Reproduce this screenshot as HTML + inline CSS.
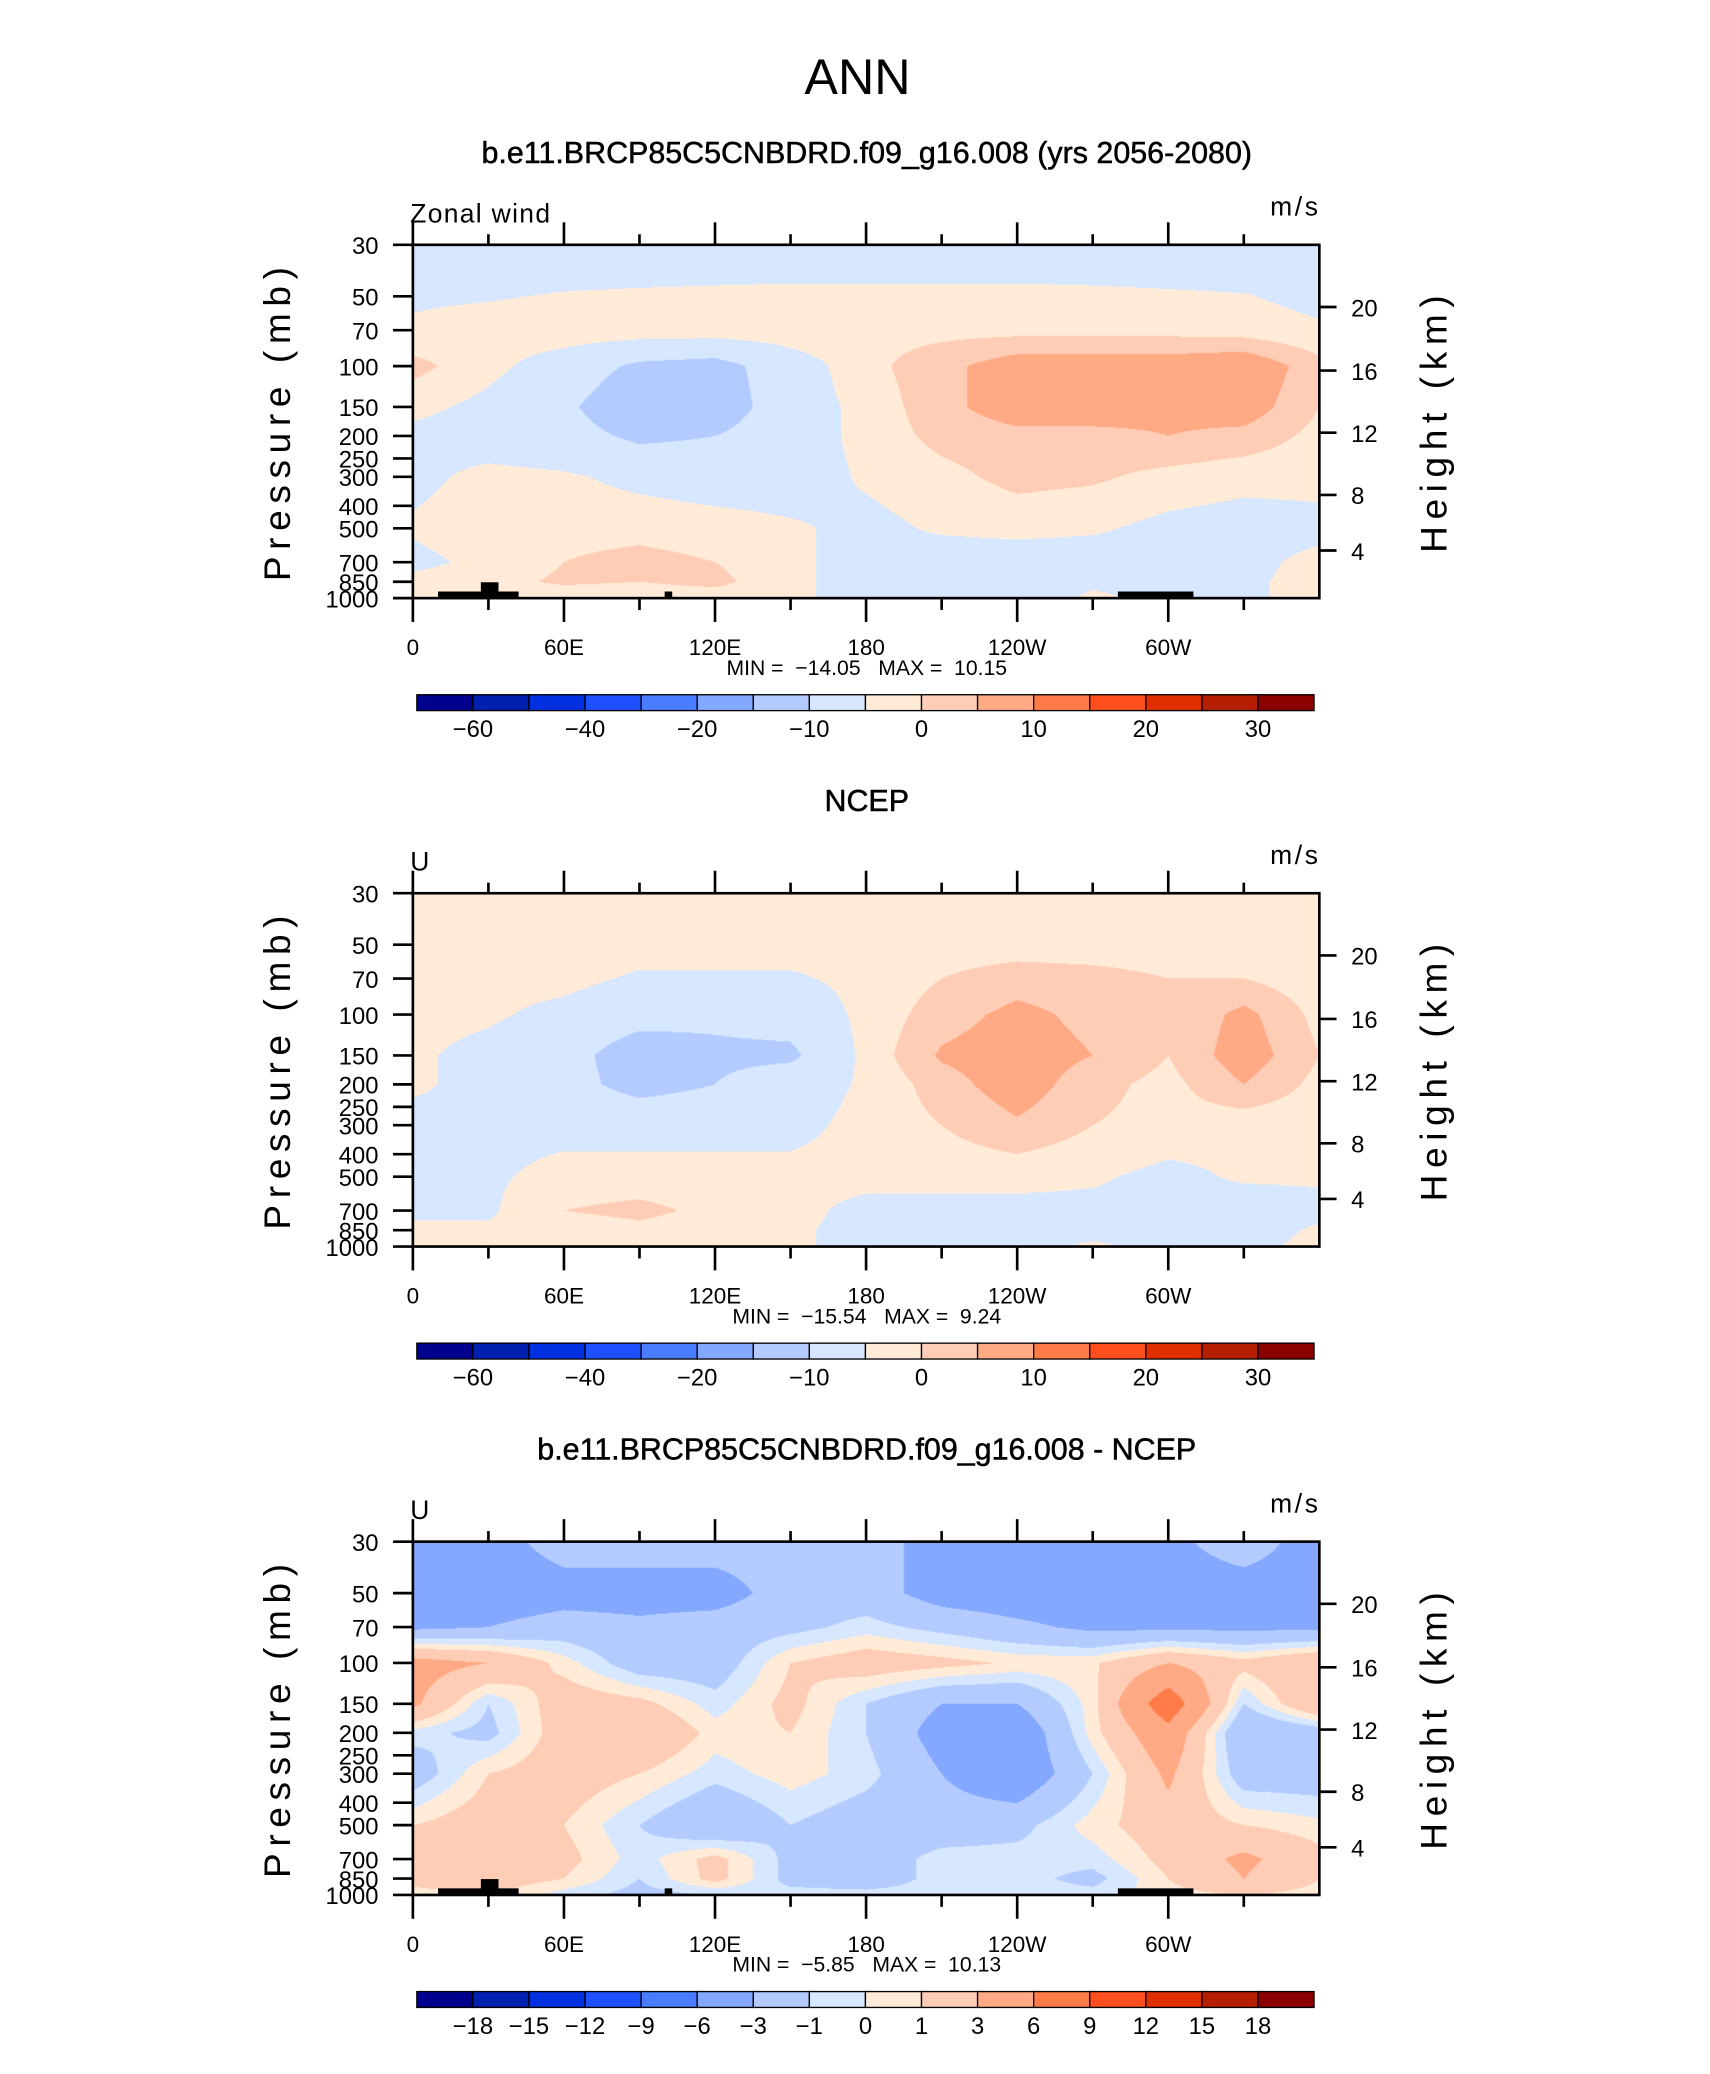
<!DOCTYPE html>
<html><head><meta charset="utf-8">
<style>
html,body{margin:0;padding:0;background:#fff;overflow:hidden;}
#wrap{position:relative;width:1300px;height:1577px;transform:scale(1.3233,1.3233);transform-origin:0 0;}
svg{position:absolute;left:0;top:0;}
canvas{position:absolute;}
text{font-family:"Liberation Sans",sans-serif;fill:#000;}
</style></head>
<body>
<div id="wrap">
<canvas id="c0"></canvas>
<canvas id="c1"></canvas>
<canvas id="c2"></canvas>
<svg id="s" width="1300" height="1577" viewBox="0 0 1300 1577"></svg>
</div>
<script>
// ---- data ----
const lons = [0,30,60,90,120,150,180,210,240,270,300,330,360];
const levels = [30,50,70,100,150,200,300,500,700,850,1000];
const lonTickValues = [0,60,120,180,240,300];
const lonTickLabels = ["0","60E","120E","180","120W","60W"];
const presTickValues = [30,50,70,100,150,200,250,300,400,500,700,850,1000];
const heightTickLabels = ["20","16","12","8","4"];
const heightTickOffsets = [47,95,142,189,231];
const modelField = [
 [-3,-3,-3,-3,-3,-3,-3,-3,-3,-3,-3,-3,-3],
 [-0.5,-0.3,0.3,0.6,0.8,1,1,1,1,0.8,0.5,0.2,-1],
 [0.5,1.5,2,2,2,2,2,2,2,2,2,1.5,0.5],
 [4,1,-2,-6,-7,-2,2,5,8,8,8,9,4],
 [1,-1,-4,-9,-8,-2,1,5,8,8,7,8,3],
 [-1,-2,-3,-6,-5,-2,1,4,5,5,6,5,2],
 [-1,1,0.5,-1,-2,-2,0.5,2,4,3.5,2,1,1],
 [0.5,2,2,2,1.5,0.5,-1,0.5,1,0.5,-1,-1.5,-1],
 [-1,1,3,4,3,0.5,-1,-2,-2,-2,-1.5,-1,1],
 [1,2,3.5,3,4,0.5,-1,-1,-1,-0.3,-0.5,-0.5,1],
 [1,2,1,1,1,0.5,-1,-1,-1,0.3,-0.5,-0.5,1]
];
const ncepField = [
 [1,1,1,1,1,1,1,1,1,1,1,1,1],
 [1.5,1.5,1.5,1.5,1.5,1.5,1.5,1.5,1.5,1.5,1.5,1.5,1.5],
 [1,1,1,-0.5,-0.5,-0.5,1,3,4.5,4,3,3,1],
 [1,0.5,-1,-3,-4,-3,1,4.5,7,5,3,7,2],
 [0.5,-1,-3,-8,-6,-6,1,6.5,8,6,3,8,3],
 [0.5,-1,-3,-7,-5,-2,0.5,4.5,8,4,2,6,2],
 [-1,-1,-1,-1,-1,-1,1,3,5.5,3,2,1,1],
 [-1,-0.5,1,1,1,1,1,1,1,0.5,-1,0.5,0.5],
 [-1,-0.5,3,4,2,1,-1,-1,-1,-1,-1,-2,-1],
 [1,0.5,1,2,1,0.5,-1,-1.5,-1.5,-1,-1,-1.5,0.5],
 [2,0.5,0.5,0.5,0.5,0.5,-1,-1,-1,0.5,-1,-1,1]
];
const diffField = [
 [-4,-4,-2,-2,-2,-2,-2,-4,-4,-4,-3.5,-2,-4],
 [-4.5,-4.5,-4,-4,-4,-2,-2,-4,-4.5,-4.5,-4,-4,-4],
 [-3.5,-3,-2,-2.5,-2,-1.5,-0.5,-1.5,-2.5,-3.5,-3.5,-3.5,-3.5],
 [4,3,0.5,-2,-2,1,2,1.5,0.8,0.8,3,1.5,3],
 [3.5,-1,2,1.5,-0.5,1.5,-1,-3,-3,0.5,8,-1,3],
 [-0.5,-1.5,2,3,0.5,1,-1,-4,-5,0.5,5,-3,-2],
 [-2,1,2,1,-0.5,0.5,-0.5,-3,-5,-1,3.5,-2,-2],
 [1,2,1,-1,-3,-1,-2,-2,-1.5,0.5,2,1,0.3],
 [1,2,1.5,-0.5,1.5,-1.5,-2,-0.5,-0.5,-0.5,1.5,3.5,1.5],
 [1.5,2,1,-1,1.5,-1.5,-2,-0.5,-0.5,-1.5,1,3,1],
 [0.5,1,-0.5,-1.5,-1,-0.5,-0.5,-0.5,-0.5,-0.5,0.5,1,0.5]
];
const windThresholds = [-60,-50,-40,-30,-25,-15,-5,0,3,6,10,15,20,25,30];
const diffThresholds = [-18,-15,-12,-9,-6,-3,-1,0,1,3,6,9,12,15,18];
const windBarLabels = ["−60","","−40","","−20","","−10","","0","","10","","20","","30"];
const diffBarLabels = ["−18","−15","−12","−9","−6","−3","−1","0","1","3","6","9","12","15","18"];
const palette = ["#00008c","#0020b0","#0030e0","#1e50ff","#4a7cff","#85a8ff","#b3cbff","#d6e7ff","#ffebd8","#ffcdb5","#ffaa85","#ff7b48","#ff4f1e","#e03000","#b51e00","#8b0000"];
const titles = ["b.e11.BRCP85C5CNBDRD.f09_g16.008 (yrs 2056-2080)","NCEP","b.e11.BRCP85C5CNBDRD.f09_g16.008 - NCEP"];
const leftLabels = ["Zonal wind","U","U"];
const minVals = ["−14.05","−15.54","−5.85"];
const maxVals = ["10.15","9.24","10.13"];
const topo = [[10,42,5],[27,34,12],[100,103,5],[280,310,5]];
// ---- layout ----
const X0=312,X1=997,PH=267,S=1.3233;
const panelTops=[185,675,1165];
const svg=document.getElementById('s');
const NS="http://www.w3.org/2000/svg";
function mk(tag,attrs,parent){const e=document.createElementNS(NS,tag);for(const k in attrs)e.setAttribute(k,attrs[k]);(parent||svg).appendChild(e);return e;}
function xOf(lon){return X0+(lon/360)*(X1-X0);}
function yOf(p,top){return top+PH*Math.log(p/30)/Math.log(1000/30);}
function interp(field,lon,p){
  let i=Math.min(11,Math.floor(lon/30));let fx=(lon-lons[i])/30;
  const lp=Math.log(p);let j=0;while(j<levels.length-2&&Math.log(levels[j+1])<lp)j++;
  let fy=(lp-Math.log(levels[j]))/(Math.log(levels[j+1])-Math.log(levels[j]));
  fy=Math.max(0,Math.min(1,fy));
  const a=field[j][i],b=field[j][i+1],c=field[j+1][i],d=field[j+1][i+1];
  return (a*(1-fx)+b*fx)*(1-fy)+(c*(1-fx)+d*fx)*fy;
}
function hex(h){return [parseInt(h.substr(1,2),16),parseInt(h.substr(3,2),16),parseInt(h.substr(5,2),16)];}
const rgb=palette.map(hex);
const fields=[modelField,ncepField,diffField];
const thr=[windThresholds,windThresholds,diffThresholds];
const barLabels=[windBarLabels,windBarLabels,diffBarLabels];
for(let k=0;k<3;k++){
  const top=panelTops[k];
  const cv=document.getElementById('c'+k);
  const W=Math.round((X1-X0)*S),H=Math.round(PH*S);
  cv.width=W;cv.height=H;cv.style.left=X0+'px';cv.style.top=top+'px';cv.style.width=(X1-X0)+'px';cv.style.height=PH+'px';
  const ctx=cv.getContext('2d');const img=ctx.createImageData(W,H);
  for(let y=0;y<H;y++){const p=30*Math.exp((y+0.5)/H*Math.log(1000/30));
    for(let x=0;x<W;x++){const lon=(x+0.5)/W*360;const v=interp(fields[k],lon,p);
      let c=0;while(c<15&&v>=thr[k][c])c++;const col=rgb[c];const o=(y*W+x)*4;
      img.data[o]=col[0];img.data[o+1]=col[1];img.data[o+2]=col[2];img.data[o+3]=255;}}
  ctx.putImageData(img,0,0);
  if(k!==1){for(const t of topo){const r=mk('rect',{x:xOf(t[0]),y:top+PH-t[2],width:xOf(t[1])-xOf(t[0]),height:t[2],fill:'#000'});
    }}
  const g=mk('g',{});
  const tt=mk('text',{x:655,y:top-62,'text-anchor':'middle','font-size':23,'stroke':'#000','stroke-width':0.4},g);tt.textContent=titles[k];
  
  const ll=mk('text',{x:310,y:top-17,'font-size':20,'letter-spacing':'1'},g);ll.textContent=leftLabels[k];
  
  const ul=mk('text',{x:998,y:top-22,'font-size':20,'text-anchor':'end','letter-spacing':'2'},g);ul.textContent="m/s";
  
  const fr=mk('rect',{x:X0,y:top,width:X1-X0,height:PH,fill:'none',stroke:'#000','stroke-width':2},g);
  
  for(let lon=0;lon<360;lon+=30){const major=lon%60===0;const x=xOf(lon);
    mk('line',{x1:x,x2:x,y1:top,y2:top-(major?17:8),stroke:'#000','stroke-width':2},g);
    mk('line',{x1:x,x2:x,y1:top+PH,y2:top+PH+(major?18:9),stroke:'#000','stroke-width':2},g);}
  lonTickValues.forEach((v,i)=>{const t=mk('text',{x:xOf(v),y:top+PH+43,'text-anchor':'middle','font-size':17},g);t.textContent=lonTickLabels[i];
    });
  presTickValues.forEach(p=>{const y=yOf(p,top);mk('line',{x1:X0-15,x2:X0,y1:y,y2:y,stroke:'#000','stroke-width':2},g);
    const t=mk('text',{x:286,y:y+7,'text-anchor':'end','font-size':18},g);t.textContent=String(p);
    });
  heightTickOffsets.forEach((o,i)=>{const y=top+o;mk('line',{x1:X1,x2:X1+13,y1:y,y2:y,stroke:'#000','stroke-width':2},g);
    const t=mk('text',{x:1021,y:y+7,'font-size':18},g);t.textContent=heightTickLabels[i];
    });
  const yl=mk('text',{x:0,y:0,'font-size':28,'text-anchor':'middle','letter-spacing':'5',transform:`translate(219,${top+133}) rotate(-90)`},g);yl.textContent="Pressure  (mb)";
  
  const hl=mk('text',{x:0,y:0,'font-size':28,'text-anchor':'middle','letter-spacing':'5',transform:`translate(1093,${top+133}) rotate(-90)`},g);hl.textContent="Height  (km)";
  
  const mm=mk('text',{x:655,y:top+PH+58,'text-anchor':'middle','font-size':16},g);mm.textContent=`MIN =  ${minVals[k]}   MAX =  ${maxVals[k]}`;
  
  mm.style.whiteSpace='pre';
  const cb=mk('g',{},g);
  const by=top+340,bx=315,bw=(993-315)/16;
  palette.forEach((c,i)=>{const r=mk('rect',{x:bx+i*bw,y:by,width:bw,height:12,fill:c,stroke:'#000','stroke-width':1},cb);
    });
  barLabels[k].forEach((l,i)=>{if(!l)return;const t=mk('text',{x:bx+(i+1)*bw,y:by+32,'text-anchor':'middle','font-size':18},cb);t.textContent=l;
    });
}
const ann=mk('text',{x:648,y:71,'text-anchor':'middle','font-size':38});ann.textContent="ANN";

</script>
</body></html>
